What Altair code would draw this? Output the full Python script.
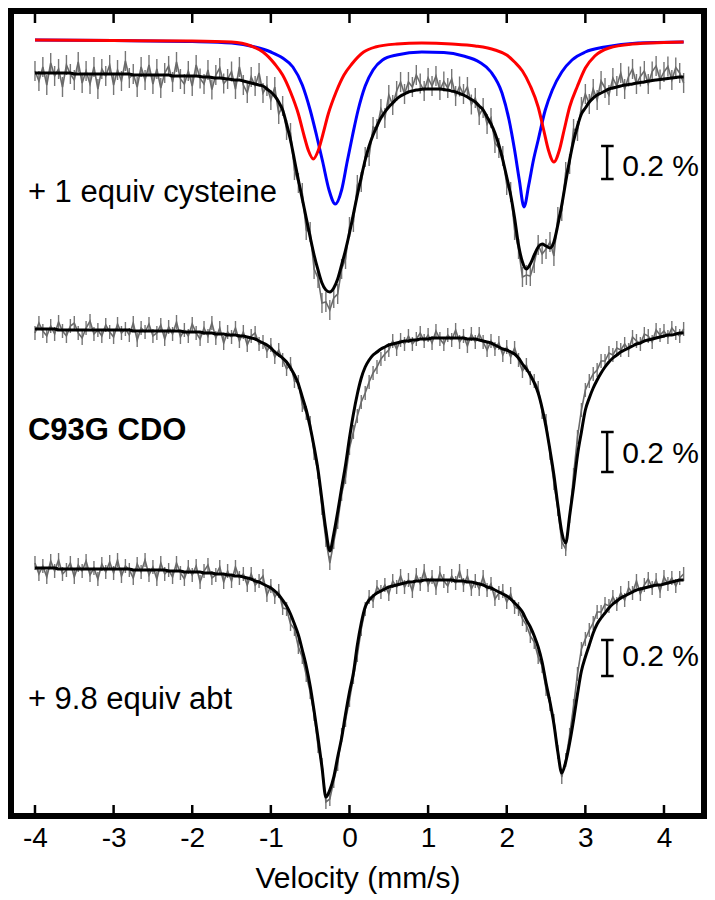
import altair as alt
import pandas as pd

# ---------------- data (velocity grid, absorption in arbitrary stacked units; larger = lower) -------------
V_START, V_STEP, N_PTS = -4.0, 0.05, 166
velocity = [round(V_START + V_STEP * i, 2) for i in range(N_PTS)]

top_fit = [73, 73, 73, 73, 73, 73, 73, 73, 73, 73,
           74, 74, 74, 74, 74, 74, 74, 74, 74, 74,
           74, 74, 74, 74, 74, 75, 75, 75, 75, 75,
           75, 75, 75, 75, 75, 76, 76, 76, 76, 76,
           76, 76, 76.5, 77, 77, 77.5, 78, 78, 78.5, 79,
           79.5, 80, 80, 81, 82, 83, 84, 85, 86, 89,
           92, 96, 102, 110, 124, 140, 160, 180, 199, 218,
           237, 255, 270, 283, 290, 292, 288, 279, 265, 250,
           233, 214, 195, 177, 160, 146, 135, 126, 118, 112,
           107, 103, 99, 96, 94, 92, 91, 90, 89.5, 89,
           89, 89, 89, 89, 89.5, 90, 91, 92, 93.5, 95,
           97, 99.5, 102, 106, 110, 117, 124, 133, 145, 160,
           177, 195, 218, 245, 262, 269, 264, 255, 247, 244,
           246, 248, 242, 225, 205, 182, 160, 141, 126, 114,
           108, 102, 98, 95, 93, 91, 89, 88, 87, 86,
           85, 84.5, 84, 83, 82.5, 82, 81, 80.5, 80, 79.5,
           79, 78.5, 78, 77.5, 77, 77]
top_resid = [-2, 8, -6, 12, -10, 3, -4, 14, -8, 1,
             6, -12, 9, -3, 10, -7, 15, -5, 2, -9,
             11, -4, 7, -13, 4, -1, 12, -8, 5, -10,
             9, -6, 13, -2, -9, 6, -14, 3, 8, -5,
             10, -11, 2, 7, -7, 12, -3, -10, 5, 0,
             -8, 9, -13, 4, 11, -6, 2, -12, 7, -3,
             8, -9, 12, -4, 6, -7, 10, 3, -6, 12,
             -5, 14, 8, 20, 12, 18, 10, 15, 4, 9,
             -6, 8, -10, 5, -3, 10, -8, 3, -9, 6,
             -12, 2, -8, -14, 0, -10, -4, -15, -6, 2,
             -11, -3, -13, 1, -8, -2, -12, 4, -7, -1,
             -10, 5, -4, 9, -2, 7, -6, 10, 3, -4,
             8, -3, 12, 4, 15, 6, 12, 8, -2, 10,
             3, -6, 14, -8, 6, -10, 4, -12, 5, -7,
             -14, 2, -9, 5, -12, -3, 6, -10, -1, -13,
             4, -8, -15, 1, -6, -11, 3, -9, -14, 0,
             -7, -12, 2, -10, -4, 6]

mid_fit = [329, 329, 329, 329, 329, 329, 330, 330, 330, 330,
           330, 330, 330, 330, 330, 330, 330, 330, 330, 330,
           330, 330, 330, 330, 330, 331, 331, 331, 331, 331,
           331, 331, 331, 331, 331, 331, 331, 331, 332, 332,
           332, 332, 332, 333, 333, 333, 334, 334, 334, 335,
           335, 335, 336, 336, 337, 338, 339, 341, 343, 345,
           348, 352, 355, 358, 362, 368, 375, 384, 397, 410,
           427, 447, 470, 500, 530, 551, 534, 512, 488, 465,
           438, 414, 394, 378, 367, 360, 355, 352, 349, 347,
           345, 344, 343, 342, 341, 341, 340, 340, 339, 339,
           339, 338, 338, 338, 338, 338, 338, 338, 338, 338,
           339, 339, 339, 340, 341, 342, 343, 345, 347, 349,
           350, 352, 354, 358, 364, 369, 375, 383, 393, 408,
           427, 450, 475, 505, 532, 543, 516, 487, 455, 432,
           410, 398, 388, 380, 373, 367, 362, 358, 355, 352,
           350, 348, 346, 344, 343, 341, 340, 339, 338, 337,
           336, 335, 335, 334, 333, 333]
mid_resid = [4, -6, 2, 7, -3, 5, -8, 1, 6, -4,
             -7, 3, 8, -2, -9, 4, 0, 6, -5, 2,
             7, -6, 3, -1, 5, -8, 9, -3, 1, -7,
             5, 2, -6, 8, -4, 3, -9, 6, -2, 4,
             -8, 1, 7, -5, 3, -10, 4, -6, 9, -3,
             2, -7, 5, -4, 8, -2, -6, 3, -1, 6,
             -3, 5, -5, 2, 7, -4, 6, -2, 8, 3,
             -4, 6, 2, 8, 10, 12, 8, 10, 6, 12,
             10, 18, 22, 24, 26, 22, 18, 15, 10, 7,
             5, -3, 6, -2, 3, -5, 4, -1, -6, 2,
             -4, 5, -7, 1, 6, -3, 2, -8, 4, -2,
             7, -5, 3, -6, 1, 8, -2, 4, -4, 6,
             -3, 5, -6, 2, 7, -4, 3, -2, -5, 4,
             -6, 3, 8, 4, 10, 6, 0, -12, -18, -22,
             -20, -17, -14, -10, -12, -6, -9, -3, -7, -2,
             -6, 2, -9, -3, 1, -7, -4, 3, -8, -2,
             -5, 2, -7, -1, 3, -4]

bot_fit = [568, 568, 568, 568, 568, 568, 569, 569, 569, 569,
           569, 569, 569, 569, 569, 569, 569, 569, 569, 569,
           569, 569, 569, 569, 569, 570, 570, 570, 570, 570,
           570, 570, 570, 570, 571, 571, 571, 571, 572, 572,
           572, 572, 572, 573, 573, 573, 574, 574, 574, 575,
           575, 576, 576, 577, 578, 579, 581, 582, 584, 586,
           588, 591, 595, 600, 606, 614, 624, 635, 650, 666,
           686, 711, 738, 767, 797, 790, 777, 757, 738, 714,
           692, 673, 645, 623, 607, 600, 596, 593, 591, 589,
           587, 586, 585, 584, 583, 582, 582, 581, 581, 580,
           580, 580, 580, 580, 580, 580, 580, 581, 581, 581,
           582, 582, 583, 584, 585, 587, 588, 590, 592, 594,
           596, 599, 603, 607, 612, 620, 627, 636, 647, 662,
           683, 702, 724, 752, 773, 762, 743, 720, 694, 671,
           657, 645, 633, 624, 618, 613, 608, 604, 601, 598,
           596, 594, 592, 590, 589, 588, 587, 586, 585, 585,
           584, 583, 582, 581, 580, 580]
bot_resid = [-5, 6, -2, 9, -7, 3, -9, 5, 1, -6,
             8, -4, 2, -8, 6, -1, 10, -5, 3, -7,
             4, -9, 7, -3, 1, 8, -6, 2, -10, 5,
             -3, 9, -7, 4, -1, 6, -8, 2, 7, -5,
             3, -6, 10, -2, -8, 5, 1, -7, 8, -4,
             6, -9, 2, -3, 7, -5, 4, -1, -8, 9,
             -2, 6, -4, 8, 3, 10, 5, 12, 7, 9,
             6, 3, 8, -2, 5, 9, 4, 7, -3, 6,
             8, 4, 10, 6, 2, -3, 5, -6, 1, -4,
             7, -5, 2, -8, 4, -2, 9, -6, 3, -9,
             5, -3, 8, -7, 1, 6, -4, 2, -10, 4,
             -6, 7, -2, 5, -8, 3, -4, 9, 1, -3,
             6, -5, 4, 2, 7, 5, 9, 6, 10, 4,
             6, 2, -3, 0, 4, -2, -8, -14, -20, -22,
             -18, -15, -10, -12, -6, -9, -2, -7, 3, -5,
             4, -6, 1, -9, 5, -3, -8, 2, -5, 6,
             -7, 1, -4, 5, -2, -6]

# error-bar half-length of each spectrum's data points
spectra = ["cys", "c93g", "abt"]
data_err = [10, 7, 7]

# component doublets of the top spectrum
red_v = [-4.0, -3.0, -2.0, -1.5, -1.25, -1.1, -0.95, -0.85, -0.75, -0.65, -0.58, -0.52, -0.46,
         -0.40, -0.34, -0.27, -0.17, -0.07, 0.03, 0.18, 0.33, 0.6, 0.92, 1.3, 1.6, 1.85, 2.0,
         2.1, 2.2, 2.3, 2.4, 2.47, 2.53, 2.60, 2.67, 2.73, 2.80, 2.90, 3.0, 3.12, 3.3, 3.6, 4.0, 4.25]
red_y = [40, 40.5, 41, 42, 46, 52, 64, 75, 92, 114, 135, 151, 159,
         151, 135, 114, 92, 75, 64, 52, 47, 44, 43, 44, 46, 50, 55,
         62, 71, 86, 107, 130, 150, 162, 150, 130, 107, 86, 68, 56, 48, 44, 42.5, 42]
blue_v = [-4.0, -3.0, -2.0, -1.5, -1.2, -1.0, -0.85, -0.72, -0.6, -0.5, -0.42, -0.34, -0.26, -0.18,
          -0.10, -0.03, 0.04, 0.11, 0.2, 0.3, 0.42, 0.6, 0.92, 1.2, 1.45, 1.65, 1.8, 1.94, 2.03,
          2.10, 2.16, 2.22, 2.28, 2.34, 2.40, 2.49, 2.58, 2.7, 2.83, 3.0, 3.25, 3.67, 4.25]
blue_y = [40, 40.5, 41.5, 43, 47, 52, 58, 67, 85, 110, 135, 162, 190, 204,
          190, 162, 135, 110, 86, 70, 60, 55, 52, 52.5, 56, 62, 72, 93, 120,
          150, 180, 207, 185, 160, 140, 110, 90, 72, 60, 52, 47, 43, 42]

label_texts = ["+ 1 equiv cysteine", "C93G CDO", "+ 9.8 equiv abt"]
tick_values = [-4, -3, -2, -1, 0, 1, 2, 3, 4]

for arr in (top_fit, top_resid, mid_fit, mid_resid, bot_fit, bot_resid):
    assert len(arr) == N_PTS, len(arr)

# ---------------- tables -------------
rows_data, rows_fit = [], []
for name, fit, res, err in zip(spectra, (top_fit, mid_fit, bot_fit),
                               (top_resid, mid_resid, bot_resid), data_err):
    for v, f, r in zip(velocity, fit, res):
        rows_fit.append({"v": v, "y": f, "s": name})
        rows_data.append({"v": v, "y": f + r, "lo": f + r - err, "hi": f + r + err, "s": name})
df_data = pd.DataFrame(rows_data)
df_fit = pd.DataFrame(rows_fit)
df_red = pd.DataFrame({"v": red_v, "y": red_y})
df_blue = pd.DataFrame({"v": blue_v, "y": blue_y})

# annotation placement (chart layout, in axis units)
df_lab = pd.DataFrame({"v": [-4.09, -4.09], "y": [202, 709], "t": [label_texts[0], label_texts[2]]})
df_bold = pd.DataFrame({"v": [-4.09], "y": [440], "t": [label_texts[1]]})
df_pct = pd.DataFrame({"v": [3.468] * 3, "y": [176, 463, 666], "t": ["0.2 %"] * 3})
df_bar = pd.DataFrame({"v": [3.277] * 3, "y": [146, 432, 640], "y2": [179, 472, 676]})
df_serif = pd.DataFrame({"v": [3.20] * 6, "v2": [3.36] * 6, "y": [146, 179, 432, 472, 640, 676]})
df_ticks = pd.DataFrame({"v": tick_values})

W, H = 693, 805
FONT = "Liberation Sans, Arial, sans-serif"

xs = alt.Scale(domain=[-4.305, 4.509], nice=False, zero=False)
ys = alt.Scale(domain=[11, 816], nice=False, zero=False, reverse=True)

X = alt.X("v:Q", scale=xs,
          axis=alt.Axis(values=tick_values, title="Velocity (mm/s)", tickSize=0, domain=False,
                        grid=False, labelFontSize=28, titleFontSize=30, labelPadding=8,
                        titlePadding=11, labelColor="black", titleColor="black",
                        titleFontWeight="normal", labelFont=FONT, titleFont=FONT,
                        labelExpr="'' + datum.value", labelFlush=False))
Y = alt.Y("y:Q", scale=ys, axis=None)
XS = alt.X("v:Q", scale=xs)

err_r = alt.Chart(df_data).mark_rule(color="#767676", strokeWidth=1.4).encode(
    x=X, y=alt.Y("lo:Q", scale=ys, axis=None), y2="hi:Q")
data_l = alt.Chart(df_data).mark_line(color="#6a6a6a", strokeWidth=1.6).encode(
    x=XS, y=Y, detail="s:N", order="v:Q")
fit_l = alt.Chart(df_fit).mark_line(color="black", strokeWidth=3, interpolate="monotone").encode(
    x=XS, y=Y, detail="s:N", order="v:Q")
blue_l = alt.Chart(df_blue).mark_line(color="#0000ff", strokeWidth=3, interpolate="monotone").encode(
    x=XS, y=Y)
red_l = alt.Chart(df_red).mark_line(color="#ff0000", strokeWidth=3, interpolate="monotone").encode(
    x=XS, y=Y)

lab = alt.Chart(df_lab).mark_text(align="left", baseline="alphabetic", fontSize=31, font=FONT,
                                  color="black").encode(x=XS, y=Y, text="t:N")
bold = alt.Chart(df_bold).mark_text(align="left", baseline="alphabetic", fontSize=31, font=FONT,
                                    fontWeight="bold", color="black").encode(x=XS, y=Y, text="t:N")
pct = alt.Chart(df_pct).mark_text(align="left", baseline="alphabetic", fontSize=30, font=FONT,
                                  color="black").encode(x=XS, y=Y, text="t:N")
bar = alt.Chart(df_bar).mark_rule(color="black", strokeWidth=2.5).encode(x=XS, y=Y, y2="y2:Q")
serif = alt.Chart(df_serif).mark_rule(color="black", strokeWidth=2.5).encode(x=XS, x2="v2:Q", y=Y)
tick_top = alt.Chart(df_ticks).mark_rule(color="black", strokeWidth=2.5).encode(
    x=XS, y=alt.value(0), y2=alt.value(12))
tick_bot = alt.Chart(df_ticks).mark_rule(color="black", strokeWidth=2.5).encode(
    x=XS, y=alt.value(H), y2=alt.value(H - 11))

chart = alt.layer(err_r, data_l, fit_l, blue_l, red_l, lab, bold, pct, bar, serif,
                  tick_top, tick_bot).properties(
    width=W, height=H,
    background="white",
    autosize=alt.AutoSizeParams(type="none"),
    padding={"left": 3, "top": 3, "right": 3, "bottom": 82},
).configure_view(stroke="black", strokeWidth=6)

chart.save("out.html", embed_options={"renderer": "svg", "actions": False})
